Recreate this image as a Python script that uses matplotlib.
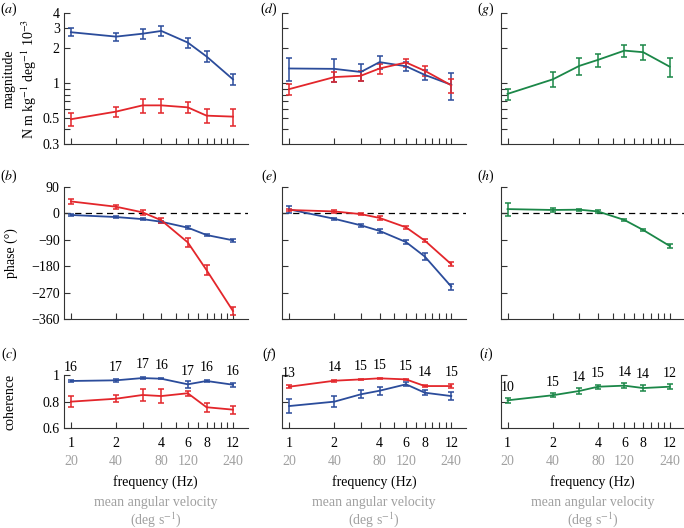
import numpy as np
import matplotlib
matplotlib.use('Agg')
import matplotlib.pyplot as plt
from matplotlib.ticker import NullLocator

plt.rcParams['font.family'] = 'serif'
plt.rcParams['font.serif'] = ['Liberation Serif', 'DejaVu Serif']
plt.rcParams['mathtext.fontset'] = 'stix'
plt.rcParams['font.size'] = 10

BLUE = '#2b4c9b'
RED = '#e3262b'
GREEN = '#1b8748'
GREY = '#a0a0a0'

freq = [1, 2, 3, 4, 6, 8, 12]
velocity = [20, 40, 80, 120, 240]
velocity_freq = [1, 2, 4, 6, 12]

# magnitude (N m kg^-1 deg^-1 10^-3)
mag_a_blue = [2.75, 2.52, 2.67, 2.82, 2.24, 1.70, 1.08]
mag_a_blue_err = [0.22, 0.20, 0.25, 0.28, 0.22, 0.18, 0.11]
mag_a_red = [0.49, 0.57, 0.645, 0.645, 0.62, 0.526, 0.516]
mag_a_red_err = [0.065, 0.06, 0.09, 0.09, 0.065, 0.07, 0.09]
mag_d_blue = [1.34, 1.33, 1.25, 1.52, 1.40, 1.18, 0.97]
mag_d_blue_err = [0.30, 0.30, 0.20, 0.20, 0.12, 0.12, 0.25]
mag_d_red = [0.89, 1.13, 1.16, 1.34, 1.51, 1.28, 0.96]
mag_d_red_err = [0.09, 0.11, 0.11, 0.13, 0.12, 0.12, 0.13]
mag_g = [0.81, 1.08, 1.41, 1.59, 1.91, 1.85, 1.39]
mag_g_err = [0.09, 0.16, 0.24, 0.20, 0.24, 0.28, 0.25]

# phase (deg)
ph_b_blue = [-6, -13, -20, -29, -49, -74, -92]
ph_b_blue_err = [3, 3, 3, 4, 5, 5, 6]
ph_b_red = [40, 22, 3, -24, -99, -193, -332]
ph_b_red_err = [8, 6, 8, 8, 15, 16, 15]
ph_e_blue = [13, -19, -41, -60, -98, -147, -249]
ph_e_blue_err = [11, 4, 5, 6, 6, 11, 10]
ph_e_red = [11, 6, -3, -16, -48, -93, -173]
ph_e_red_err = [4, 4, 3, 6, 5, 5, 6]
ph_h = [14, 11, 12, 6, -23, -57, -111]
ph_h_err = [22, 6, 4, 4, 4, 5, 6]

# coherence
co_c_blue = [0.955, 0.96, 0.977, 0.972, 0.93, 0.955, 0.927]
co_c_blue_err = [0.01, 0.01, 0.005, 0.005, 0.025, 0.01, 0.015]
co_c_red = [0.80, 0.822, 0.85, 0.842, 0.863, 0.758, 0.74]
co_c_red_err = [0.04, 0.025, 0.045, 0.05, 0.02, 0.035, 0.03]
co_f_blue = [0.767, 0.80, 0.855, 0.882, 0.93, 0.867, 0.842]
co_f_blue_err = [0.05, 0.04, 0.03, 0.03, 0.015, 0.02, 0.03]
co_f_red = [0.912, 0.957, 0.967, 0.975, 0.967, 0.917, 0.917]
co_f_red_err = [0.01, 0.006, 0.006, 0.006, 0.006, 0.01, 0.015]
co_i = [0.81, 0.848, 0.88, 0.912, 0.92, 0.902, 0.912]
co_i_err = [0.02, 0.015, 0.02, 0.015, 0.02, 0.02, 0.02]

n_c = [16, 17, 17, 16, 17, 16, 16]
n_f = [13, 14, 15, 15, 15, 14, 15]
n_i = [10, 15, 14, 15, 14, 14, 12]

fig = plt.figure(figsize=(6.84, 5.28), dpi=100)

lefts = [0.0936, 0.4127, 0.732]
w = 0.2683
rows = [(0.7273, 0.2475), (0.3953, 0.2511), (0.1888, 0.101)]

# panel label centres, pixels from top-left
label_x = [9, 269, 486]
label_y = [9, 176, 354]


def style(ax):
    ax.set_xscale('log')
    ax.set_xlim(0.9, 15)
    ax.spines['top'].set_visible(False)
    ax.spines['right'].set_visible(False)
    for s in ['left', 'bottom']:
        ax.spines[s].set_color('#333333')
        ax.spines[s].set_linewidth(0.8)
    ax.set_xticks(range(1, 13))
    ax.xaxis.set_minor_locator(NullLocator())
    ax.yaxis.set_minor_locator(NullLocator())
    ax.tick_params(direction='in', length=4, width=0.8, color='#333333', pad=3)
    ax.set_xticklabels([])


def series(ax, y, err, color):
    ax.errorbar(freq, y, yerr=err, color=color, lw=1.3, elinewidth=1.1,
                capsize=2, capthick=1.1, clip_on=False)


mag_sets = [
    [(mag_a_blue, mag_a_blue_err, BLUE), (mag_a_red, mag_a_red_err, RED)],
    [(mag_d_blue, mag_d_blue_err, BLUE), (mag_d_red, mag_d_red_err, RED)],
    [(mag_g, mag_g_err, GREEN)],
]
ph_sets = [
    [(ph_b_blue, ph_b_blue_err, BLUE), (ph_b_red, ph_b_red_err, RED)],
    [(ph_e_blue, ph_e_blue_err, BLUE), (ph_e_red, ph_e_red_err, RED)],
    [(ph_h, ph_h_err, GREEN)],
]
co_sets = [
    [(co_c_blue, co_c_blue_err, BLUE), (co_c_red, co_c_red_err, RED)],
    [(co_f_blue, co_f_blue_err, BLUE), (co_f_red, co_f_red_err, RED)],
    [(co_i, co_i_err, GREEN)],
]
counts = [n_c, n_f, n_i]
letters = ['abc', 'def', 'ghi']

mag_ticks = [0.3, 0.4, 0.5, 0.6, 0.7, 0.8, 0.9, 1, 2, 3, 4]
mag_labels = ['0.3', '', '0.5', '', '', '', '', '1', '2', '3', '4']

for col in range(3):
    x0 = lefts[col]
    for r in range(3):
        fig.text(label_x[col] / 684, 1 - label_y[r] / 528,
                 '($\\it{%s}$)' % letters[col][r], ha='center', va='center')

    # magnitude
    ax = fig.add_axes([x0, rows[0][0], w, rows[0][1]])
    style(ax)
    ax.set_yscale('log')
    ax.set_ylim(0.3, 4)
    ax.set_yticks(mag_ticks)
    ax.yaxis.set_minor_locator(NullLocator())
    if col == 0:
        ax.set_yticklabels(mag_labels)
        ax.text(-0.235, 0.5, 'magnitude\nN m kg$^{-1}$ deg$^{-1}$ 10$^{-3}$',
                rotation=90, ha='center', va='center', transform=ax.transAxes,
                linespacing=1.3)
    else:
        ax.set_yticklabels([])
    for y, e, c in mag_sets[col]:
        series(ax, y, e, c)

    # phase
    ax = fig.add_axes([x0, rows[1][0], w, rows[1][1]])
    style(ax)
    ax.set_ylim(-360, 90)
    ax.set_yticks([-360, -270, -180, -90, 0, 90])
    if col == 0:
        ax.set_yticklabels(['\u2212360', '\u2212270', '\u2212180', '\u221290', '0', '90'])
        ax.text(-0.29, 0.5, 'phase (\u00b0)', rotation=90, ha='center',
                va='center', transform=ax.transAxes)
    else:
        ax.set_yticklabels([])
    ax.axhline(0, color='black', lw=0.9, ls=(0, (5, 3.5)), zorder=1)
    for y, e, c in ph_sets[col]:
        series(ax, y, e, c)

    # coherence
    ax = fig.add_axes([x0, rows[2][0], w, rows[2][1]])
    style(ax)
    ax.set_ylim(0.6, 1.0)
    ax.set_yticks([0.6, 0.8, 1.0])
    if col == 0:
        ax.set_yticklabels(['0.6', '0.8', '1'])
        ax.text(-0.295, 0.5, 'coherence', rotation=90, ha='center',
                va='center', transform=ax.transAxes)
    else:
        ax.set_yticklabels([])
    ax.set_xticklabels(['1', '2', '', '4', '', '6', '', '8', '', '', '', '12'])
    ax.tick_params(axis='x', pad=6)
    for y, e, c in co_sets[col]:
        series(ax, y, e, c)
    top = np.max([s[0] for s in co_sets[col]], axis=0)
    for f, t, n in zip(freq, top, counts[col]):
        ax.annotate(str(n), (f, t), xytext=(0, 9.5), textcoords='offset points',
                    ha='center', va='center', annotation_clip=False)
    for f, v in zip(velocity_freq, velocity):
        ax.annotate(str(v), (f, 0), xycoords=ax.get_xaxis_transform(),
                    xytext=(0, -24), textcoords='offset points',
                    ha='center', va='center', color=GREY)
    ax.annotate('frequency (Hz)', (0.5, 0), xycoords='axes fraction',
                xytext=(0, -39), textcoords='offset points', ha='center', va='center')
    ax.annotate('mean angular velocity', (0.5, 0), xycoords='axes fraction',
                xytext=(0, -53.5), textcoords='offset points', ha='center',
                va='center', color=GREY)
    ax.annotate('(deg s$^{-1}$)', (0.5, 0), xycoords='axes fraction',
                xytext=(0, -66), textcoords='offset points', ha='center',
                va='center', color=GREY)

fig.savefig('out.png', dpi=100)
